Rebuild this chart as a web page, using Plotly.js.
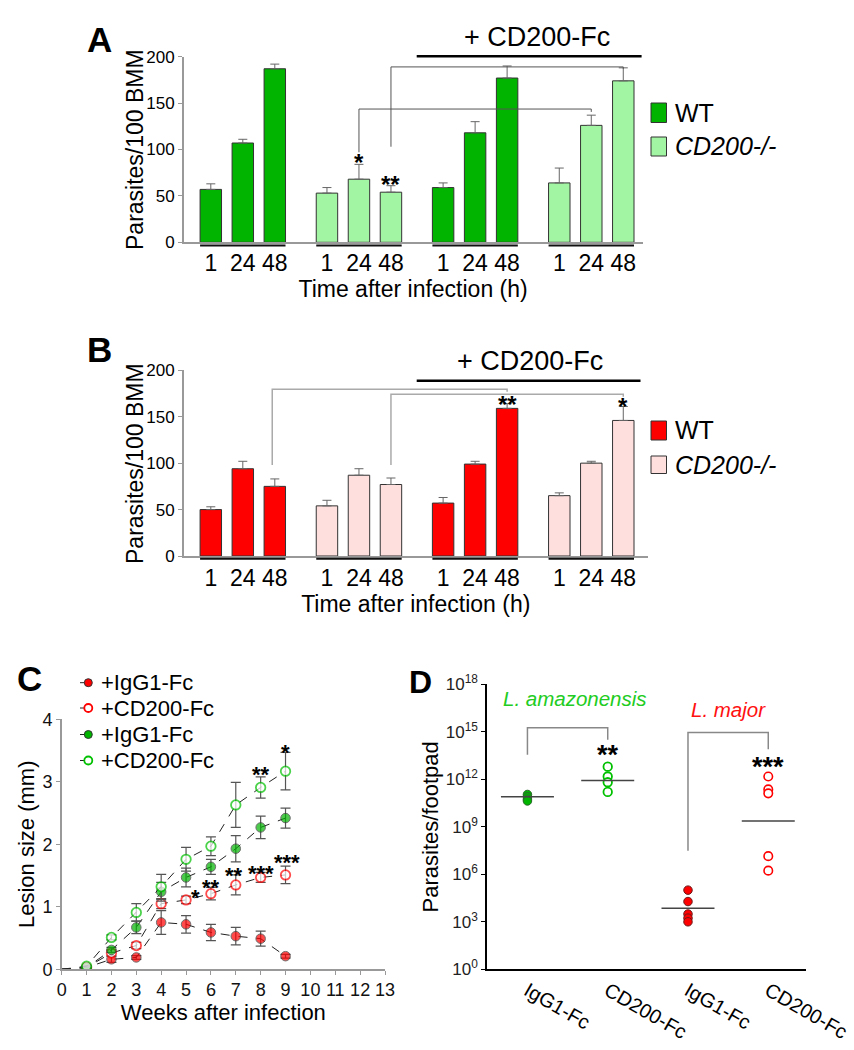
<!DOCTYPE html>
<html><head><meta charset="utf-8">
<script src="https://cdn.plot.ly/plotly-3.0.1.min.js"></script>
<style>html,body{margin:0;padding:0;background:#fff;} #chart{width:854px;height:1050px;}</style>
</head><body><div id="chart"></div>
<script>
// ---------------- DATA ----------------
const times = ['1', '24', '48'];
const barGroups = ['WT', 'CD200-/-', 'WT + CD200-Fc', 'CD200-/- + CD200-Fc'];
// Panel A (L. amazonensis) parasites / 100 BMM
const aWT = [57, 107, 187];
const aKO = [53, 68, 54];
const aWTfc = [59, 118, 177];
const aKOfc = [64, 126, 174];
const aWTerr = [6, 4, 5];
const aKOerr = [6, 16, 7];
const aWTfcErr = [5, 12, 13];
const aKOfcErr = [16, 11, 14];
// Panel B (L. major) parasites / 100 BMM
const bWT = [50, 94, 75];
const bKO = [54, 87, 77];
const bWTfc = [57, 99, 159];
const bKOfc = [65, 100, 146];
const bWTerr = [3, 8, 8];
const bKOerr = [6, 7, 7];
const bWTfcErr = [6, 3, 5];
const bKOfcErr = [3, 2, 15];
const barYTicks = [0, 50, 100, 150, 200];

// Panel C lesion size (mm)
const weeks = [0, 1, 2, 3, 4, 5, 6, 7, 8, 9];
const weekTicks = [0, 1, 2, 3, 4, 5, 6, 7, 8, 9, 10, 11, 12, 13];
const majIgG = [0, 0.03, 0.16, 0.19, 0.75, 0.72, 0.59, 0.53, 0.49, 0.21];
const majIgGErr = [0, 0.01, 0.05, 0.03, 0.19, 0.14, 0.13, 0.14, 0.12, 0.03];
const majCD = [0, 0.03, 0.26, 0.38, 1.05, 1.11, 1.21, 1.35, 1.47, 1.51];
const majCDErr = [0, 0.01, 0.05, 0.05, 0.08, 0.06, 0.1, 0.16, 0.08, 0.14];
const amaIgG = [0, 0.03, 0.31, 0.67, 1.24, 1.47, 1.64, 1.93, 2.27, 2.42];
const amaIgGErr = [0, 0.01, 0.04, 0.1, 0.15, 0.15, 0.12, 0.21, 0.18, 0.16];
const amaCD = [0, 0.05, 0.51, 0.91, 1.32, 1.76, 1.97, 2.63, 2.91, 3.17];
const amaCDErr = [0, 0.01, 0.04, 0.14, 0.2, 0.19, 0.15, 0.36, 0.17, 0.3];
const cLegend = ['+IgG1-Fc', '+CD200-Fc', '+IgG1-Fc', '+CD200-Fc'];

// Panel D parasites / footpad
const dCats = ['IgG1-Fc', 'CD200-Fc', 'IgG1-Fc', 'CD200-Fc'];
const dAmaIgG = [1.1e11, 7.9e10, 5.6e10, 4.3e10];
const dAmaCD = [6.3e12, 1.5e12, 6.5e11, 1.6e11];
const dMajIgG = [1.0e5, 1.9e4, 3.1e3, 1.7e3, 1.0e3];
const dMajCD = [1.5e12, 2.3e11, 1.3e11, 1.4e7, 1.7e6];
const dGeoMeans = [7.9e10, 8.3e11, 7.1e3, 2.3e9];
const dTickVals = [1, 1e3, 1e6, 1e9, 1e12, 1e15, 1e18];
const dTickText = ['10<sup>0</sup>', '10<sup>3</sup>', '10<sup>6</sup>', '10<sup>9</sup>', '10<sup>12</sup>', '10<sup>15</sup>', '10<sup>18</sup>'];

// ---------------- LAYOUT HELPERS ----------------
const W = 854, H = 1050;
const px = v => v / W;
const py = v => 1 - v / H;
const ARIAL = '"Liberation Sans", Arial, Helvetica, sans-serif';
const GROUP_STEP = 3.63, BAR_W = 0.67, UNIT = 32, FIRST_BAR_PX = 210.8;
const barX = (g, i) => g * GROUP_STEP + i;
const rangeFromPx = (l, r) => [(l - FIRST_BAR_PX) / UNIT, (r - FIRST_BAR_PX) / UNIT];

const GREEN = '#00b400', LGREEN = '#a2f5a2', RED = '#ff0000', PINK = '#ffdede';

const traces = [];
function addBars(vals, errs, g, color, xa, ya) {
  traces.push({
    type: 'bar', name: barGroups[g], x: vals.map((v, i) => barX(g, i)), y: vals,
    width: BAR_W, xaxis: xa, yaxis: ya, showlegend: false,
    marker: { color: color, line: { color: '#333', width: 1 } },
    error_y: { type: 'data', array: errs, arrayminus: errs.map(() => 0), symmetric: false,
      color: '#666', thickness: 1, width: 4.5 },
    hoverinfo: 'y'
  });
}
addBars(aWT, aWTerr, 0, GREEN, 'x', 'y');
addBars(aKO, aKOerr, 1, LGREEN, 'x', 'y');
addBars(aWTfc, aWTfcErr, 2, GREEN, 'x', 'y');
addBars(aKOfc, aKOfcErr, 3, LGREEN, 'x', 'y');
addBars(bWT, bWTerr, 0, RED, 'x2', 'y2');
addBars(bKO, bKOerr, 1, PINK, 'x2', 'y2');
addBars(bWTfc, bWTfcErr, 2, RED, 'x2', 'y2');
addBars(bKOfc, bKOfcErr, 3, PINK, 'x2', 'y2');

const cStyles = [
  { fill: RED, edge: '#333', w: 1 },
  { fill: '#ffffff', edge: RED, w: 1.8 },
  { fill: GREEN, edge: '#333', w: 1 },
  { fill: '#ffffff', edge: '#00c000', w: 1.8 }
];
function addLine(vals, errs, k) {
  const s = cStyles[k];
  traces.push({
    type: 'scatter', mode: 'lines+markers', name: cLegend[k], x: weeks, y: vals,
    xaxis: 'x3', yaxis: 'y3', showlegend: false,
    line: { color: '#222', width: 1, dash: 'dash' },
    marker: { size: weeks.map(w => w === 0 ? 0 : 9.5), color: s.fill, line: { color: s.edge, width: s.w } },
    error_y: { type: 'data', array: errs, color: '#555', thickness: 1.2, width: 5 }
  });
}
addLine(majIgG, majIgGErr, 0);
addLine(majCD, majCDErr, 1);
addLine(amaIgG, amaIgGErr, 2);
addLine(amaCD, amaCDErr, 3);

function addDots(vals, k, fill, edge, edgeW) {
  traces.push({
    type: 'scatter', mode: 'markers', name: dCats[k], x: vals.map(() => k), y: vals,
    xaxis: 'x4', yaxis: 'y4', showlegend: false,
    marker: { size: 8.5, color: fill, line: { color: edge, width: edgeW } }
  });
}
addDots(dAmaIgG, 0, '#00b400', '#2a6a2a', 1);
addDots(dAmaCD, 1, '#ffffff', '#00c000', 1.8);
addDots(dMajIgG, 2, RED, '#6a1a1a', 1);
addDots(dMajCD, 3, '#ffffff', RED, 1.6);

// ---------------- SHAPES / ANNOTATIONS ----------------
const shapes = [];
const annotations = [];

// group underlines
[0, 1, 2, 3].forEach(g => {
  shapes.push({ type: 'line', xref: 'x', yref: 'paper', x0: barX(g, 0) - BAR_W / 2, x1: barX(g, 2) + BAR_W / 2,
    y0: py(245.5), y1: py(245.5), line: { color: '#111', width: 2 } });
  shapes.push({ type: 'line', xref: 'x2', yref: 'paper', x0: barX(g, 0) - BAR_W / 2, x1: barX(g, 2) + BAR_W / 2,
    y0: py(558.7), y1: py(558.7), line: { color: '#111', width: 2 } });
});
// + CD200-Fc bars
shapes.push({ type: 'line', xref: 'paper', yref: 'paper', x0: px(416.7), x1: px(641.6), y0: py(56.3), y1: py(56.3), line: { color: '#000', width: 2.5 } });
shapes.push({ type: 'line', xref: 'paper', yref: 'paper', x0: px(416.7), x1: px(640.5), y0: py(380.7), y1: py(380.7), line: { color: '#000', width: 2.5 } });
annotations.push({ xref: 'paper', yref: 'paper', x: px(537), y: py(37.5), text: '+ CD200-Fc', showarrow: false,
  font: { family: ARIAL, size: 27, color: '#000' }, xanchor: 'center', yanchor: 'middle' });
annotations.push({ xref: 'paper', yref: 'paper', x: px(530), y: py(361), text: '+ CD200-Fc', showarrow: false,
  font: { family: ARIAL, size: 27, color: '#000' }, xanchor: 'center', yanchor: 'middle' });

// y-axis titles of A and B
[[135, 150], [134.5, 463.5]].forEach(([x, y]) => annotations.push({ xref: 'paper', yref: 'paper', x: px(x), y: py(y),
  text: 'Parasites/100 BMM', textangle: -90, showarrow: false, xanchor: 'center', yanchor: 'middle',
  font: { family: ARIAL, size: 23, color: '#000' } }));

// brackets A
shapes.push({ type: 'path', xref: 'x', yref: 'y', path: `M ${barX(1, 2)},103 V 189 H ${barX(3, 2)} V 187`, line: { color: '#555', width: 1 } });
shapes.push({ type: 'path', xref: 'x', yref: 'y', path: `M ${barX(1, 1)},97 V 143.6 H ${barX(3, 1)} V 140.5`, line: { color: '#555', width: 1 } });
// brackets B
shapes.push({ type: 'path', xref: 'x2', yref: 'y2', path: `M ${barX(0, 2) - 0.08},98 V 179.6 H ${barX(2, 2)} V 177`, line: { color: '#aaa', width: 1.5 } });
shapes.push({ type: 'path', xref: 'x2', yref: 'y2', path: `M ${barX(1, 2)},98 V 174.2 H ${barX(3, 2)} V 171.6`, line: { color: '#aaa', width: 1.5 } });

const star = (xref, yref, x, y, t, size) => {
  size = size || 22;
  annotations.push({ xref, yref, x, y, text: t, showarrow: false,
    font: { family: ARIAL, size: size, color: '#000', weight: 'bold' }, xanchor: 'center', yanchor: 'middle',
    yshift: -Math.round(size * 0.27) });
};
star('x', 'y', barX(1, 1), 92, '*', 24);
star('x', 'y', barX(1, 2), 69, '**', 24);
star('x2', 'y2', barX(2, 2), 170, '**', 24);
star('x2', 'y2', barX(3, 2), 168, '*', 24);

// legends A/B (manual)
function legendSq(x, y0, y1, fill, label, italic) {
  shapes.push({ type: 'rect', xref: 'paper', yref: 'paper', x0: px(x), x1: px(x + 15.5), y0: py(y1), y1: py(y0),
    fillcolor: fill, line: { color: '#333', width: 1 } });
  annotations.push({ xref: 'paper', yref: 'paper', x: px(x + 22), y: py((y0 + y1) / 2), text: italic ? '<i>' + label + '</i>' : label,
    showarrow: false, xanchor: 'left', yanchor: 'middle', font: { family: ARIAL, size: 25, color: '#000' } });
}
legendSq(651, 103, 122.5, GREEN, 'WT', false);
legendSq(651, 137, 156, LGREEN, 'CD200-/-', true);
legendSq(651, 421, 440, RED, 'WT', false);
legendSq(651, 456, 473.5, PINK, 'CD200-/-', true);

// C legend (manual)
const cLegRows = [682.7, 708, 734.5, 760.5];
cLegend.forEach((lab, k) => {
  const y = cLegRows[k], s = cStyles[k];
  shapes.push({ type: 'line', xref: 'paper', yref: 'paper', x0: px(80), x1: px(96), y0: py(y), y1: py(y),
    line: { color: '#222', width: 1, dash: 'dash' } });
  shapes.push({ type: 'circle', xref: 'paper', yref: 'paper', x0: px(84.3), x1: px(92.3), y0: py(y + 4), y1: py(y - 4),
    fillcolor: s.fill, line: { color: s.edge, width: s.w } });
  annotations.push({ xref: 'paper', yref: 'paper', x: px(99), y: py(y), text: lab, showarrow: false,
    xanchor: 'left', yanchor: 'middle', font: { family: ARIAL, size: 22, color: '#000' } });
});

// C asterisks
star('x3', 'y3', 9, 3.57, '*');
star('x3', 'y3', 8, 3.21, '**');
star('x3', 'y3', 5.39, 1.24, '*');
star('x3', 'y3', 6.0, 1.40, '**');
star('x3', 'y3', 6.94, 1.59, '**');
star('x3', 'y3', 8.01, 1.63, '***');
star('x3', 'y3', 9.05, 1.81, '***');

// D mean lines
dGeoMeans.forEach((m, k) => shapes.push({ type: 'line', xref: 'x4', yref: 'y4', x0: k - 0.33, x1: k + 0.33, y0: m, y1: m,
  line: { color: '#444', width: 1.5 } }));
// D brackets
shapes.push({ type: 'path', xref: 'x4', yref: 'y4', path: 'M 0,3.5e13 V 1.8e15 H 1 V 3.1e14', line: { color: '#888', width: 1.5 } });
shapes.push({ type: 'path', xref: 'x4', yref: 'y4', path: 'M 2,3.1e7 V 8.9e14 H 3 V 7.9e13', line: { color: '#888', width: 1.5 } });
star('x4', 'y4', 1, 13.98, '**', 27);
star('x4', 'y4', 3, 13.22, '***', 27);
annotations.push({ xref: 'paper', yref: 'paper', x: px(575), y: py(698), text: '<i>L. amazonensis</i>', showarrow: false,
  font: { family: ARIAL, size: 20.5, color: '#22cc22' }, xanchor: 'center', yanchor: 'middle' });
annotations.push({ xref: 'paper', yref: 'paper', x: px(728), y: py(709), text: '<i>L. major</i>', showarrow: false,
  font: { family: ARIAL, size: 20.5, color: '#ff1010' }, xanchor: 'center', yanchor: 'middle' });

// panel letters
[['A', 99.5, 40, 35], ['B', 99.5, 349, 35], ['C', 29, 679, 35], ['D', 420, 682, 32]].forEach(([t, x, y, s]) => annotations.push({
  xref: 'paper', yref: 'paper', x: px(x), y: py(y), text: '<b>' + t + '</b>', showarrow: false,
  font: { family: ARIAL, size: s, color: '#000' }, xanchor: 'center', yanchor: 'middle' }));

// ---------------- AXES ----------------
const barTickVals = [0, 1, 2, 3].flatMap(g => times.map((t, i) => barX(g, i)));
const barTickText = [0, 1, 2, 3].flatMap(() => times);
function barXAxis(l, r, anchor, standoff) {
  return { domain: [px(l), px(r)], range: rangeFromPx(l, r), anchor: anchor, showgrid: false, zeroline: false,
    showline: true, linecolor: '#999', linewidth: 1.5, ticks: '', tickmode: 'array', tickvals: barTickVals, ticktext: barTickText,
    tickangle: 0, tickfont: { family: ARIAL, size: 23, color: '#000' }, ticklabelstandoff: standoff,
    title: { text: 'Time after infection (h)', font: { family: ARIAL, size: 23, color: '#000' }, standoff: 0 } };
}
function barYAxis(top, bottom, anchor) {
  return { domain: [py(bottom), py(top)], range: [0, 200], anchor: anchor, showgrid: false, zeroline: false,
    showline: true, linecolor: '#999', linewidth: 1.5, ticks: 'outside', ticklen: 4, tickcolor: '#999',
    tickmode: 'array', tickvals: barYTicks, tickfont: { family: ARIAL, size: 17, color: '#000' } };
}

const layout = {
  width: W, height: H, margin: { l: 0, r: 0, t: 0, b: 0 }, paper_bgcolor: '#fff', plot_bgcolor: 'rgba(0,0,0,0)',
  showlegend: false, barmode: 'overlay', hovermode: 'closest',
  xaxis: barXAxis(183.5, 642.7, 'y', 0),
  yaxis: barYAxis(56.7, 242.3, 'x'),
  xaxis2: barXAxis(183.5, 648, 'y2', 1),
  yaxis2: barYAxis(370.3, 556, 'x2'),
  xaxis3: { domain: [px(61.7), px(385)], range: [0, 13], anchor: 'y3', showgrid: false, zeroline: false,
    showline: true, linecolor: '#999', linewidth: 1.5, ticks: 'outside', ticklen: 4, tickcolor: '#999',
    tickmode: 'array', tickvals: weekTicks, tickangle: 0, tickfont: { family: ARIAL, size: 18, color: '#111' },
    title: { text: 'Weeks after infection', font: { family: ARIAL, size: 22, color: '#000' }, standoff: 4 } },
  yaxis3: { domain: [py(969.3), py(719.3)], range: [0, 4], anchor: 'x3', showgrid: false, zeroline: false,
    showline: true, linecolor: '#999', linewidth: 1.5, ticks: 'outside', ticklen: 4, tickcolor: '#999',
    dtick: 1, tickfont: { family: ARIAL, size: 18, color: '#111' },
    title: { text: 'Lesion size (mm)', font: { family: ARIAL, size: 22, color: '#000' }, standoff: 2 } },
  xaxis4: { domain: [px(487.3), px(806)], range: [-0.5, 3.47], anchor: 'y4', showgrid: false, zeroline: false,
    showline: true, linecolor: '#000', linewidth: 2, ticks: '', tickmode: 'array', tickvals: [0, 1, 2, 3], ticktext: dCats,
    tickangle: 30, tickfont: { family: ARIAL, size: 20, color: '#000' } },
  yaxis4: { domain: [py(969.3), py(684.3)], type: 'log', range: [0, 18], anchor: 'x4', showgrid: false, zeroline: false,
    showline: true, linecolor: '#000', linewidth: 2, ticks: 'outside', ticklen: 4, tickcolor: '#000',
    tickmode: 'array', tickvals: dTickVals, ticktext: dTickText, tickfont: { family: ARIAL, size: 17, color: '#222' },
    title: { text: 'Parasites/footpad', font: { family: ARIAL, size: 22, color: '#000' }, standoff: 1 } },
  shapes: shapes, annotations: annotations
};

Plotly.newPlot('chart', traces, layout, { displayModeBar: false, staticPlot: true });
</script>
</body></html>
